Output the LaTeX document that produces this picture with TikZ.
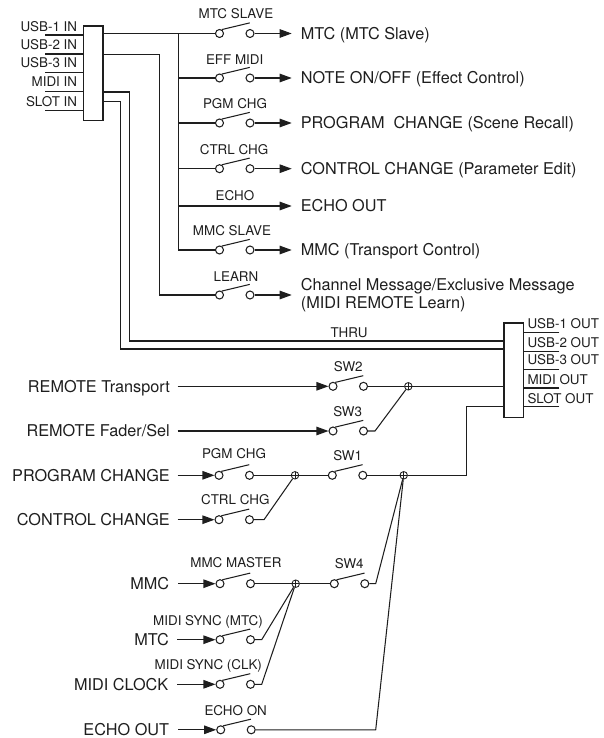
\documentclass[tikz,border=0pt]{standalone}
\usepackage{fontspec}
\setmainfont{TeX Gyre Heros}
\usetikzlibrary{arrows.meta, positioning}
\definecolor{inkgray}{RGB}{30, 30, 30}
\tikzset{
  wire/.style={draw=inkgray, line width=1.05pt},
  flow/.style={wire, -{Triangle[length=12pt, width=8.5pt]}},
  term/.style={circle, draw=inkgray, line width=1.05pt, fill=white, inner sep=0pt, minimum size=8pt},
  junct/.style={circle, draw=inkgray, line width=0.85pt, inner sep=0pt, minimum size=7.5pt,
    path picture={\draw[inkgray, line width=0.75pt]
      (path picture bounding box.north) -- (path picture bounding box.south)
      (path picture bounding box.west) -- (path picture bounding box.east);}},
  hub/.style={draw=inkgray, line width=1.05pt, fill=white, inner sep=0pt},
  lbl/.style={text=inkgray, font=\fontsize{13.4}{15}\selectfont, inner sep=0pt, text height=9.6pt, text depth=0pt},
  biglbl/.style={text=inkgray, font=\fontsize{16.25}{18.4}\selectfont, inner ysep=0pt, text height=11.7pt, text depth=0pt}
}
% name, left terminal x, y, label x, label y, label
\newcommand{\switchat}[6]{
  \node[term] (#1a) at (#2,#3) {};
  \node[term] (#1b) at (#2+30.5,#3) {};
  \draw[wire] (#1a.60) -- ++(28,-6.7);
  \node[lbl] (#1l) at (#4,#5) {#6};
}
\begin{document}
\begin{tikzpicture}[x=1pt, y=-1pt]
  \useasboundingbox (0,0) rectangle (603,738);

  % Input box
  \node[hub, minimum width=19.5pt, minimum height=94.5pt] (inbox) at (93.25,73.25) {};
  \coordinate (usb1in) at (45,35);
  \coordinate (usb2in) at (45,54);
  \coordinate (usb3in) at (45,72.5);
  \coordinate (midiin) at (45,91.5);
  \coordinate (slotin) at (45,110.5);
  \draw[wire] (usb1in) -- (usb1in -| inbox.west);
  \draw[wire] (usb2in) -- (usb2in -| inbox.west);
  \draw[wire] (usb3in) -- (usb3in -| inbox.west);
  \draw[wire] (midiin) -- (midiin -| inbox.west);
  \draw[wire] (slotin) -- (slotin -| inbox.west);
  \node[lbl, anchor=east] (usb1lbl) at (77.3,27) {USB-1 IN};
  \node[lbl, anchor=east] (usb2lbl) at (77.3,45) {USB-2 IN};
  \node[lbl, anchor=east] (usb3lbl) at (77.3,63) {USB-3 IN};
  \node[lbl, anchor=east] (midilbl) at (77.3,82) {MIDI IN};
  \node[lbl, anchor=east] (slotlbl) at (77.3,102) {SLOT IN};

  % Output box
  \node[hub, minimum width=19.3pt, minimum height=94.7pt] (outbox) at (513.65,370.35) {};
  \coordinate (usb1out) at (559.3,332.3);
  \coordinate (usb2out) at (559.3,351.3);
  \coordinate (usb3out) at (559.3,369.3);
  \coordinate (midiout) at (559.3,388);
  \coordinate (slotout) at (559.3,406.7);
  \draw[wire] (usb1out) -- (usb1out -| outbox.east);
  \draw[wire] (usb2out) -- (usb2out -| outbox.east);
  \draw[wire] (usb3out) -- (usb3out -| outbox.east);
  \draw[wire] (midiout) -- (midiout -| outbox.east);
  \draw[wire] (slotout) -- (slotout -| outbox.east);
  \node[lbl, anchor=west] (usb1olbl) at (527.3,323.3) {USB-1 OUT};
  \node[lbl, anchor=west] (usb2olbl) at (527.3,343) {USB-2 OUT};
  \node[lbl, anchor=west] (usb3olbl) at (527.3,360) {USB-3 OUT};
  \node[lbl, anchor=west] (midiolbl) at (527.3,379.3) {MIDI OUT};
  \node[lbl, anchor=west] (slotolbl) at (527.3,398.3) {SLOT OUT};

  % Receive switches
  \switchat{mtcsw}{219.5}{33.5}{236}{13.3}{MTC SLAVE}
  \switchat{effsw}{219.5}{78}{234.7}{59.3}{EFF MIDI}
  \switchat{pgmsw}{219.5}{123}{235}{103.7}{PGM CHG}
  \switchat{ctrlsw}{219.5}{168.7}{234}{149.7}{CTRL CHG}
  \switchat{slavesw}{219.5}{250}{232}{230.3}{MMC SLAVE}
  \switchat{learnsw}{219.5}{295}{236}{276.7}{LEARN}
  \node[lbl] (echolbl) at (235,195.3) {ECHO};

  % Receive targets
  \node[biglbl, anchor=west, inner xsep=9pt] (mtcrx) at (291.7,33.5) {MTC (MTC Slave)};
  \node[biglbl, anchor=west, inner xsep=9pt] (noterx) at (291.7,78) {NOTE ON/OFF (Effect Control)};
  \node[biglbl, anchor=west, inner xsep=9pt] (pgmrx) at (291.7,123) {PROGRAM\ \ CHANGE (Scene Recall)};
  \node[biglbl, anchor=west, inner xsep=9pt] (ctrlrx) at (291.7,168.7) {CONTROL CHANGE (Parameter Edit)};
  \node[biglbl, anchor=west, inner xsep=9pt] (echorx) at (291.7,206) {ECHO OUT};
  \node[biglbl, anchor=west, inner xsep=9pt] (mmcrx) at (291.7,250) {MMC (Transport Control)};
  \node[text=inkgray, font=\fontsize{16.25}{18.4}\selectfont, anchor=west, inner xsep=9pt, inner ysep=0pt, align=left] (learnrx) at (291.7,295)
    {Channel Message/Exclusive Message\\(MIDI REMOTE Learn)};

  \draw[flow] (mtcswb) -- (mtcrx.west);
  \draw[flow] (effswb) -- (noterx.west);
  \draw[flow] (pgmswb) -- (pgmrx.west);
  \draw[flow] (ctrlswb) -- (ctrlrx.west);
  \draw[flow] (slaveswb) -- (mmcrx.west);
  \draw[flow] (learnswb) -- (learnswb -| learnrx.west);

  % Receive bus
  \coordinate (bustop) at (178.5,33.5);
  \coordinate (learntop) at (159.7,54.5);
  \draw[wire] (mtcswa) -- (mtcswa -| inbox.east);
  \draw[wire] (bustop) |- (slaveswa);
  \draw[wire] (effswa) -- (effswa -| bustop);
  \draw[wire] (pgmswa) -- (pgmswa -| bustop);
  \draw[wire] (ctrlswa) -- (ctrlswa -| bustop);
  \draw[flow] (echorx.west -| bustop) -- (echorx.west);
  \draw[wire] (learntop -| inbox.east) -- (learntop) |- (learnswa);

  % Thru
  \coordinate (thrua) at (129.7,92);
  \coordinate (thrub) at (120.7,101.7);
  \coordinate (thruin) at (504,341);
  \coordinate (thruinb) at (504,349);
  \draw[wire] (thrua -| inbox.east) -- (thrua) |- (thruin);
  \draw[wire] (thrub -| inbox.east) -- (thrub) |- (thruinb);
  \node[lbl] (thrulbl) at (349,332.3) {THRU};

  % Remote
  \node[biglbl, anchor=east, inner xsep=7.5pt] (rtrans) at (177.5,386.3) {REMOTE Transport};
  \node[biglbl, anchor=east, inner xsep=7.5pt] (rfader) at (177.5,431) {REMOTE Fader/Sel};
  \switchat{swtwo}{333}{386.3}{348.3}{366.7}{SW2}
  \switchat{swthree}{333}{431}{347.7}{411.7}{SW3}
  \node[junct] (sumr) at (408.3,386.3) {};
  \coordinate (kneer) at (375,431);
  \draw[flow] (rtrans) -- (swtwoa);
  \draw[flow] (rfader) -- (swthreea);
  \draw[wire] (swtwob) -- (sumr);
  \draw[wire] (sumr) -- (sumr -| outbox.west);
  \draw[wire] (swthreeb) -- (kneer) -- (sumr);

  % Program and control
  \node[biglbl, anchor=east, inner xsep=7.5pt] (pgmsrc) at (177.5,475.3) {PROGRAM CHANGE};
  \node[biglbl, anchor=east, inner xsep=7.5pt] (ctrlsrc) at (177.5,519.7) {CONTROL CHANGE};
  \switchat{pgmtx}{219}{475.3}{234}{454}{PGM CHG}
  \switchat{ctrltx}{219}{519.7}{235.3}{499.3}{CTRL CHG}
  \switchat{swone}{332.3}{475.3}{347.7}{456}{SW1}
  \node[junct] (sumc) at (295,475.3) {};
  \node[junct] (summ) at (403.7,475.3) {};
  \coordinate (kneec) at (264,519.7);
  \coordinate (slotknee) at (466.3,475.3);
  \draw[flow] (pgmsrc) -- (pgmtxa);
  \draw[flow] (ctrlsrc) -- (ctrltxa);
  \draw[wire] (pgmtxb) -- (sumc);
  \draw[wire] (sumc) -- (swonea);
  \draw[wire] (ctrltxb) -- (kneec) -- (sumc);
  \draw[wire] (swoneb) -- (summ);
  \draw[wire] (summ) -- (slotknee) |- (outbox.west |- slotout);

  % MMC and sync
  \node[biglbl, anchor=east, inner xsep=9pt] (mmcsrc) at (178.3,583.7) {MMC};
  \node[biglbl, anchor=east, inner xsep=8.3pt] (mtcsrc) at (177.3,639.7) {MTC};
  \node[biglbl, anchor=east, inner xsep=9pt] (clksrc) at (177.3,684.3) {MIDI CLOCK};
  \node[biglbl, anchor=east, inner xsep=9pt] (echosrc) at (178.3,729.8) {ECHO OUT};
  \switchat{mastersw}{220}{583.7}{236}{562.3}{MMC MASTER}
  \switchat{syncmtc}{220}{639.7}{208}{620.3}{MIDI SYNC (MTC)}
  \switchat{syncclk}{220}{684.3}{208.3}{664.3}{MIDI SYNC (CLK)}
  \switchat{echosw}{220.7}{729.8}{235.7}{710.3}{ECHO ON}
  \switchat{swfour}{334.3}{583.7}{349.3}{564}{SW4}
  \node[junct] (sums) at (295.7,583.7) {};
  \coordinate (kneemtc) at (261.7,639.7);
  \coordinate (kneeclk) at (261.7,684.3);
  \coordinate (kneefour) at (375.7,583.7);
  \coordinate (kneeecho) at (375.7,729.8);
  \draw[flow] (mmcsrc) -- (masterswa);
  \draw[flow] (mtcsrc) -- (syncmtca);
  \draw[flow] (clksrc) -- (syncclka);
  \draw[flow] (echosrc) -- (echoswa);
  \draw[wire] (masterswb) -- (sums);
  \draw[wire] (sums) -- (swfoura);
  \draw[wire] (syncmtcb) -- (kneemtc) -- (sums);
  \draw[wire] (syncclkb) -- (kneeclk) -- (sums);
  \draw[wire] (swfourb) -- (kneefour) -- (summ);
  \draw[wire] (echoswb) -- (kneeecho) -- (summ);
\end{tikzpicture}
\end{document}
